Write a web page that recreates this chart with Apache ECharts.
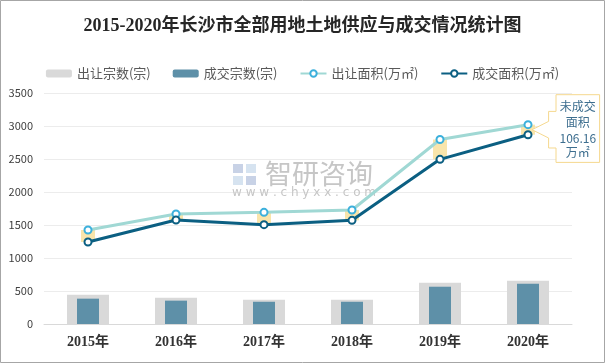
<!DOCTYPE html>
<html><head><meta charset="utf-8">
<script src="https://cdn.jsdelivr.net/npm/echarts@6/dist/echarts.min.js"></script>
<style>html,body{margin:0;padding:0;background:#fff}#c{width:605px;height:363px}</style>
</head><body><div id="c"></div>
<script>
const categories = ['2015年', '2016年', '2017年', '2018年', '2019年', '2020年'];
const supplyCount = [444, 399, 368, 368, 625, 655];
const dealCount = [384, 354, 337, 337, 565, 610];
const supplyArea = [1424, 1667, 1692, 1727, 2795, 3020];
const dealArea = [1242, 1576, 1505, 1571, 2495, 2868];
const yTicks = { min: 0, max: 3500, interval: 500 };
const legendNames = ['出让宗数(宗)', '成交宗数(宗)', '出让面积(万㎡)', '成交面积(万㎡)'];
const calloutLines = ['未成交', '面积', '106.16', '万㎡'];

const gapData = categories.map((c, i) => [i, dealArea[i], supplyArea[i]]);

const chart = echarts.init(document.getElementById('c'));
const cjk = '"Noto Sans CJK SC", sans-serif';
const serif = '"Liberation Serif", "Noto Sans CJK SC", serif';
chart.setOption({
  animation: false,
  title: {
    text: '2015-2020年长沙市全部用地土地供应与成交情况统计图',
    left: 'center', top: 12,
    textStyle: { fontFamily: serif, fontWeight: 'bold', fontSize: 18, color: '#262626' }
  },
  legend: {
    top: 62, left: 'center', itemWidth: 26, itemHeight: 8, itemGap: 22,
    data: legendNames,
    textStyle: { fontFamily: cjk, fontSize: 13, color: '#595959' }
  },
  grid: { left: 44, right: 33, top: 93, bottom: 39 },
  xAxis: [{
    type: 'category', data: categories,
    axisTick: { show: false },
    axisLine: { lineStyle: { color: '#d9d9d9', width: 1 } },
    axisLabel: { fontFamily: serif, fontWeight: 'bold', fontSize: 14, color: '#333', margin: 11 }
  }, {
    type: 'category', data: categories, show: false
  }],
  yAxis: {
    type: 'value', min: yTicks.min, max: yTicks.max, interval: yTicks.interval,
    axisLine: { show: false }, axisTick: { show: false },
    axisLabel: { fontFamily: cjk, fontSize: 11, color: '#404040', margin: 11, formatter: v => String(v) },
    splitLine: { lineStyle: { color: '#ececec' } }
  },
  series: [
    { name: legendNames[0], type: 'bar', xAxisIndex: 0, barWidth: 42, data: supplyCount,
      itemStyle: { color: '#d9d9d9' }, z: 2 },
    { name: legendNames[1], type: 'bar', xAxisIndex: 1, barWidth: 22, data: dealCount,
      itemStyle: { color: '#5e90a8' }, z: 3 },
    { type: 'custom', xAxisIndex: 0, data: gapData, z: 1, silent: true,
      renderItem: function (params, api) {
        const top = api.coord([api.value(0), api.value(2)]);
        const bot = api.coord([api.value(0), api.value(1)]);
        return { type: 'rect', shape: { x: top[0] - 7, y: top[1], width: 14, height: bot[1] - top[1] },
          style: { fill: 'rgba(248,222,150,0.8)' } };
      }
    },
    { name: legendNames[2], type: 'line', data: supplyArea, symbol: 'emptyCircle', symbolSize: 7,
      lineStyle: { color: '#a0d8d4', width: 3 },
      itemStyle: { color: '#3cb0dc', borderWidth: 1.2 }, z: 5 },
    { name: legendNames[3], type: 'line', data: dealArea, symbol: 'emptyCircle', symbolSize: 7,
      lineStyle: { color: '#0b5f82', width: 3 },
      itemStyle: { color: '#0b5f82', borderWidth: 1.2 }, z: 6 }
  ]
});

const last = categories.length - 1;
const p = chart.convertToPixel({ xAxisIndex: 0, yAxisIndex: 0 }, [last, (supplyArea[last] + dealArea[last]) / 2]);
const tx = p[0] + 4, ty = p[1];
const rel = [[24,-35],[67.6,-35],[67.6,32.7],[24,32.7],[24,18.3],[16.6,18.3],[16.6,8.3],[0,0],[16.6,-8.3],[16.6,-18.3],[24,-18.3]];
const offs = [-23, -7, 8.5, 23];
const graphics = [
  { type: 'rect', shape: { x: 0.5, y: 0.5, width: 604, height: 362 }, style: { fill: 'none', stroke: '#a6a6a6', lineWidth: 1 }, z: 100 },
  { type: 'polygon', shape: { points: rel.map(r => [tx + r[0], ty + r[1]]) }, style: { fill: '#fff', stroke: '#f5d88e', lineWidth: 1 }, z: 50 },
  // watermark
  { type: 'rect', shape: { x: 233, y: 164, width: 10, height: 9 }, style: { fill: '#c8d2e6' }, z: 0 },
  { type: 'rect', shape: { x: 246, y: 164, width: 10, height: 9 }, style: { fill: '#d6e3f0' }, z: 0 },
  { type: 'rect', shape: { x: 233, y: 176, width: 10, height: 9 }, style: { fill: '#d6e3f0' }, z: 0 },
  { type: 'rect', shape: { x: 246, y: 176, width: 10, height: 9 }, style: { fill: '#c8d2e6' }, z: 0 },
  { type: 'text', x: 265, y: 174, style: { text: '智研咨询', font: '27px "Noto Sans CJK SC"', fill: '#c6c6c6', textVerticalAlign: 'middle' }, z: 0 },
  { type: 'text', x: 232, y: 193, style: { text: 'w w w . c h y x x . c o m', font: '12px "DejaVu Sans"', fill: '#c6c6c6', textVerticalAlign: 'middle' }, z: 0 }
];
calloutLines.forEach((t, i) => graphics.push({
  type: 'text', x: tx + 45.8, y: ty + offs[i], z: 51,
  style: { text: t, font: '12px "Noto Sans CJK SC"', fill: '#3d6e8f', textAlign: 'center', textVerticalAlign: 'middle' }
}));
chart.setOption({ graphic: graphics });
</script>
</body></html>
